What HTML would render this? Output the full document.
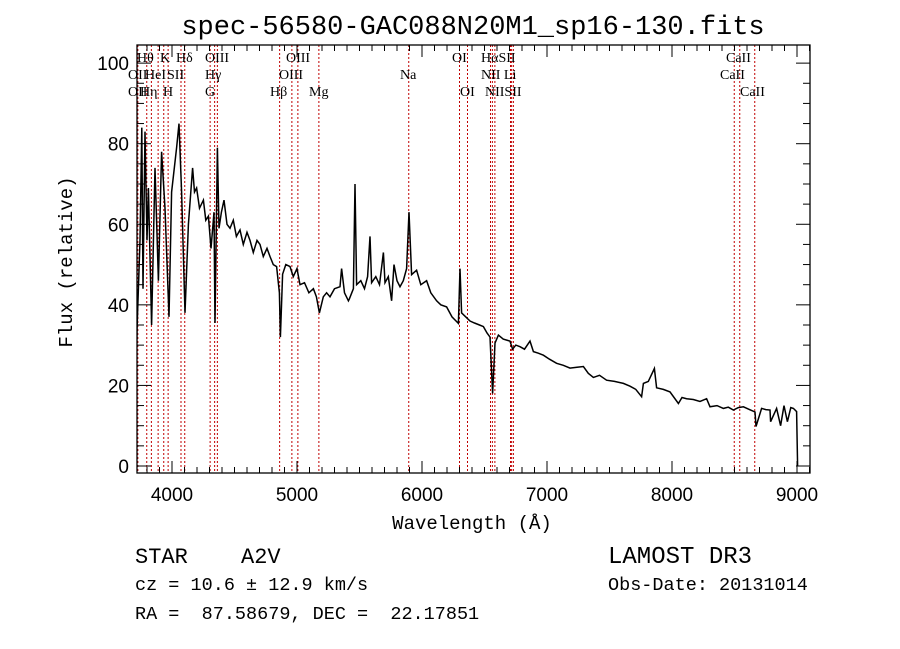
<!DOCTYPE html>
<html><head><meta charset="utf-8"><style>
html,body{margin:0;padding:0;background:#fff;}
svg{display:block;}
text{white-space:pre;}
</style></head><body>
<svg id="chart" width="900" height="649" viewBox="0 0 900 649" xmlns="http://www.w3.org/2000/svg">
<rect x="0" y="0" width="900" height="649" fill="#fff"/>
<text x="473" y="34" text-anchor="middle" font-family="Liberation Mono, monospace" font-size="27">spec-56580-GAC088N20M1_sp16-130.fits</text>
<g id="lines"></g>
<g id="labels" font-family="Liberation Serif, serif" font-size="14"></g>
<g id="series"></g>
<g id="axes"></g>
<text x="472" y="529" text-anchor="middle" font-family="Liberation Mono, monospace" font-size="19">Wavelength (Å)</text>
<text transform="translate(72,262) rotate(-90)" text-anchor="middle" font-family="Liberation Mono, monospace" font-size="19">Flux (relative)</text>
<text x="135" y="563" font-family="Liberation Mono, monospace" font-size="22">STAR</text>
<text x="241" y="563" font-family="Liberation Mono, monospace" font-size="22">A2V</text>
<text x="608" y="563" font-family="Liberation Mono, monospace" font-size="24">LAMOST DR3</text>
<text x="135" y="590" font-family="Liberation Mono, monospace" font-size="18.5">cz = 10.6 ± 12.9 km/s</text>
<text x="608" y="590" font-family="Liberation Mono, monospace" font-size="18.5">Obs-Date: 20131014</text>
<text x="135" y="619" font-family="Liberation Mono, monospace" font-size="18.5">RA =  87.58679, DEC =  22.17851</text>
</svg>
<script>
const wavelengths = [3705,3720,3744,3758,3768,3784,3800,3811,3837,3864,3891,3917,3944,3976,3997,4037,4056,4077,4104,4131,4165,4180,4197,4220,4251,4270,4291,4312,4336,4344,4363,4376,4395,4416,4440,4464,4490,4515,4544,4570,4600,4624,4650,4680,4704,4730,4760,4784,4810,4837,4859,4867,4885,4910,4944,4970,5000,5024,5060,5095,5131,5155,5179,5210,5237,5264,5300,5344,5357,5380,5411,5419,5451,5464,5477,5510,5540,5565,5584,5597,5630,5660,5691,5704,5730,5757,5776,5800,5824,5850,5877,5896,5917,5957,5990,6037,6070,6117,6150,6197,6240,6291,6304,6317,6350,6384,6420,6460,6491,6520,6544,6565,6584,6611,6650,6704,6725,6750,6784,6820,6864,6891,6930,6971,7020,7077,7130,7184,7240,7291,7330,7371,7420,7477,7540,7611,7664,7710,7757,7771,7810,7859,7877,7930,7984,8051,8080,8117,8170,8224,8277,8304,8360,8411,8450,8491,8530,8571,8620,8664,8672,8717,8750,8784,8789,8837,8869,8896,8923,8950,8971,8997,9005];
const fluxes = [0,33.7,56,84,44,83,56,69,35,74,46,78,64,37,68,79,85,68,38,60,74,68,69,64,66,61,62,54,63,35.5,79,59,63,66,60,59,61,57,58.6,55,58,56,53,56,55,52,54,52,50,49.5,43,32,47.6,50,49.5,47,49,45,45.5,43,44,42,38,42,43,42,44,44.5,49,43,41,41.5,44,70,45,46,44,47,57,45.5,47,45,53,45.5,47,41,50,46,44.5,46,49,63,47.5,48.6,45,46,43,41,40,39.5,37,35.4,49,38,37,36,35.5,35,34.6,33,32,18,30.5,32.5,31.5,31,29,30,29.6,29,31,28.4,28,27.5,26.5,25.5,25,24.3,24.5,24.7,23,22,22.5,21.3,21,20.5,19.8,19,17.2,20.5,21,24.2,19.4,19,18.4,15.5,17,16.7,16.5,16,16.7,14.7,15,14.3,14.6,13.9,14.5,14.7,14,13.4,9.8,14.3,14,13.9,11,14.3,10,15,11,14.5,14.3,13.5,0];
const lineNames = ["OII","Hθ","Hη","HeI","K","H","SII","Hδ","G","Hγ","OIII","Hβ","OIII","OIII","Mg","Na","OI","OI","NII","Hα","NII","Li","SII","SII","CaII","CaII","CaII"];
const lineWaves = [3727,3798,3835,3889,3934,3969,4072,4102,4305,4341,4363,4861,4959,5007,5175,5894,6300,6364,6548,6563,6583,6708,6717,6731,8498,8542,8662];
const xTickValues = [4000,5000,6000,7000,8000,9000];
const yTickValues = [0,20,40,60,80,100];

const NS="http://www.w3.org/2000/svg";
const L=137,R=810,T=45,B=473;
const xmin=3720,xmax=9104,ymin=-1.74,ymax=104.5;
function xs(v){return L+(v-xmin)/(xmax-xmin)*(R-L);}
function ys(v){return B-(v-ymin)/(ymax-ymin)*(B-T);}
function mk(tag,attrs,parent){const e=document.createElementNS(NS,tag);for(const k in attrs)e.setAttribute(k,attrs[k]);parent.appendChild(e);return e;}

const gl=document.getElementById('lines');
lineWaves.forEach((w,i)=>{
  const e=mk('line',{x1:xs(w),x2:xs(w),y1:T,y2:B,stroke:'#c00000','stroke-width':1,'stroke-dasharray':'2,2'},gl);
  
  
});
const gt=document.getElementById('labels');
const labelItems=[["Hθ",137,62],["K",160,62],["Hδ",176,62],["OIII",205,62],["OIII",286,62],["OI",452,62],["HαSII",481,62],["CaII",726,62],
["OII",128,79],["HeI",145,79],["SII",167,79],["Hγ",205,79],["OIII",279,79],["Na",400,79],["NII Li",481,79],["CaII",720,79],
["OII",128,96],["Hη",140,96],["H",163,96],["G",205,96],["Hβ",270,96],["Mg",309,96],["OI",460,96],["NIISII",485,96],["CaII",740,96]];
labelItems.forEach(it=>{
  const e=mk('text',{x:it[1],y:it[2]},gt);e.textContent=it[0];
  
  
});
const gs=document.getElementById('series');
const clip=mk('clipPath',{id:'pc'},gs);mk('rect',{x:L,y:T,width:R-L,height:B-T},clip);
const pts=wavelengths.map((w,i)=>xs(w).toFixed(1)+','+ys(fluxes[i]).toFixed(1)).join(' ');
const pl=mk('polyline',{points:pts,fill:'none',stroke:'#000','stroke-width':1.5,'clip-path':'url(#pc)'},gs);


const ga=document.getElementById('axes');
const box=mk('rect',{x:L,y:T,width:R-L,height:B-T,fill:'none',stroke:'#000','stroke-width':1.3},ga);


for(let v=3800;v<=9100;v+=100){
  const maj=v%1000===0, len=maj?12:6, x=xs(v);
  mk('line',{x1:x,x2:x,y1:B,y2:B-len,stroke:'#000'},ga);
  mk('line',{x1:x,x2:x,y1:T,y2:T+len,stroke:'#000'},ga);
}
xTickValues.forEach(v=>{
  const e=mk('text',{x:xs(v),y:B+28,'text-anchor':'middle','font-family':'Liberation Sans, sans-serif','font-size':19},ga);
  e.textContent=v;
  
  
});
for(let v=0;v<=100;v+=5){
  const maj=v%20===0, len=maj?14:7, y=ys(v);
  mk('line',{x1:L,x2:L+len,y1:y,y2:y,stroke:'#000'},ga);
  mk('line',{x1:R,x2:R-len,y1:y,y2:y,stroke:'#000'},ga);
}
yTickValues.forEach(v=>{
  const e=mk('text',{x:L-8,y:ys(v)+7,'text-anchor':'end','font-family':'Liberation Sans, sans-serif','font-size':19},ga);
  e.textContent=v;
  
  
});
</script>
</body></html>
